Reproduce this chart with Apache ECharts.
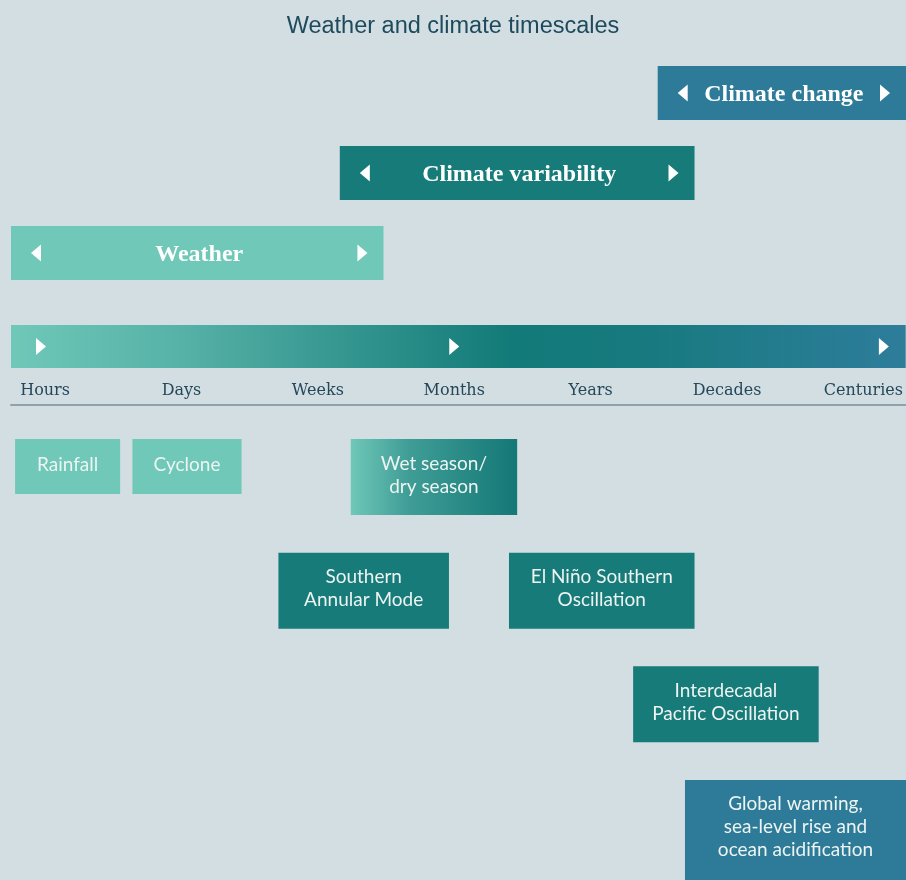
<!DOCTYPE html>
<html>
<head>
<meta charset="utf-8">
<title>Weather and climate timescales</title>
<script src="https://cdn.jsdelivr.net/npm/echarts@6/dist/echarts.min.js"></script>
<style>
  html, body { margin: 0; padding: 0; background: #d3dee3; }
  #chart { width: 906px; height: 880px; }
</style>
</head>
<body>
<div id="chart"></div>
<script>
// timescale axis, 0 = Hours ... 6 = Centuries
var timescales = ['Hours', 'Days', 'Weeks', 'Months', 'Years', 'Decades', 'Centuries']

// the three ranges on top
var bandNames = ['Climate change', 'Climate variability', 'Weather']
var bandStart = [4.49, 2.16, -0.25]
var bandEnd = [6.31, 4.76, 2.48]

// arrows on the timescale bar
var barArrows = [-0.03, 3.0, 6.15]

// phenomena
var eventNames = ['Rainfall', 'Cyclone', 'Wet season/\ndry season', 'Southern\nAnnular Mode',
  'El Niño Southern\nOscillation', 'Interdecadal\nPacific Oscillation',
  'Global warming,\nsea-level rise and\nocean acidification']
var eventStart = [-0.22, 0.64, 2.24, 1.71, 3.40, 4.31, 4.69]
var eventEnd = [0.55, 1.44, 3.46, 2.96, 4.76, 5.67, 6.31]
var eventRow = [0, 0, 0, 1, 1, 2, 3]
var eventGroup = ['weather', 'weather', 'season', 'variability', 'variability', 'variability', 'change']

var colors = {
  weather: '#6fc8b8',
  variability: '#167b79',
  change: '#2d7b98',
  axis: '#8ea2ab',
  label: '#24485a'
}
var bandColors = [colors.change, colors.variability, colors.weather]

var X_MIN = -0.25
var X_MAX = 6.31

function groupFill(g) {
  if (g === 'season') {
    return new echarts.graphic.LinearGradient(0, 0, 1, 0, [
      { offset: 0, color: '#6fc8b8' },
      { offset: 0.35, color: '#3f9d96' },
      { offset: 1, color: '#147876' }
    ])
  }
  return colors[g]
}

function arrow(cx, cy, dir) {
  var w = 10, h = 17
  var pts = dir > 0
    ? [[cx - w / 2, cy - h / 2], [cx + w / 2, cy], [cx - w / 2, cy + h / 2]]
    : [[cx + w / 2, cy - h / 2], [cx - w / 2, cy], [cx + w / 2, cy + h / 2]]
  return { type: 'polygon', shape: { points: pts }, style: { fill: '#ffffff' } }
}

function renderBand(params, api) {
  var s = api.coord([api.value(0), api.value(2)])
  var e = api.coord([api.value(1), api.value(2)])
  var h = api.size([0, 1])[1] * 0.675
  var top = s[1] - h / 2
  var inset = 25
  return {
    type: 'group',
    children: [
      { type: 'rect', shape: { x: s[0], y: top, width: e[0] - s[0], height: h },
        style: { fill: bandColors[params.dataIndex] } },
      arrow(s[0] + inset, s[1], -1),
      arrow(e[0] - inset + 4, s[1], 1),
      { type: 'text', x: (s[0] + e[0]) / 2 + 2, y: s[1] + 2,
        style: { text: bandNames[params.dataIndex], fill: '#ffffff', align: 'center', verticalAlign: 'middle',
          font: 'bold 24px "Liberation Serif", serif' } }
    ]
  }
}

function renderBar(params, api) {
  var s = api.coord([X_MIN, 1])
  var e = api.coord([X_MAX, 0.4625])
  var cy = (s[1] + e[1]) / 2
  var children = [{
    type: 'rect', shape: { x: s[0], y: s[1], width: e[0] - s[0], height: e[1] - s[1] },
    style: {
      fill: new echarts.graphic.LinearGradient(0, 0, 1, 0, [
        { offset: 0, color: '#6fc8b8' },
        { offset: 0.2, color: '#55b0a6' },
        { offset: 0.56, color: '#127a78' },
        { offset: 0.72, color: '#187a80' },
        { offset: 1, color: '#2e7d9b' }
      ])
    }
  }]
  barArrows.forEach(function (v) {
    children.push(arrow(api.coord([v, 0])[0], cy, 1))
  })
  return { type: 'group', children: children }
}

function renderEvent(params, api) {
  var i = params.dataIndex
  var s = api.coord([api.value(0), api.value(2)])
  var e = api.coord([api.value(1), api.value(2)])
  var lines = eventNames[i].split('\n').length
  var h = 55 + (lines - 1) * 21
  // the last box runs off the bottom of the picture
  var boxH = lines > 2 ? h + 12 : h
  return {
    type: 'group',
    children: [
      { type: 'rect', shape: { x: s[0], y: s[1], width: e[0] - s[0], height: boxH },
        style: { fill: groupFill(eventGroup[i]) } },
      { type: 'text', x: (s[0] + e[0]) / 2, y: s[1] + h / 2 - 2,
        style: { text: eventNames[i], fill: '#edf4f2', align: 'center', verticalAlign: 'middle',
          font: '19px Lato, sans-serif', lineHeight: 23 } }
    ]
  }
}

var chart = echarts.init(document.getElementById('chart'))

chart.setOption({
  backgroundColor: '#d3dee3',
  animation: false,
  title: {
    text: 'Weather and climate timescales',
    left: 'center',
    top: 10,
    textStyle: {
      fontFamily: '"Liberation Sans", sans-serif',
      fontWeight: 'normal',
      fontSize: 23.5,
      color: '#1d4a5c'
    }
  },
  grid: [
    { left: 11, right: 0, top: 53, height: 240 },
    { left: 11, right: 0, top: 325, height: 80 },
    { left: 11, right: 0, top: 439, bottom: 0 }
  ],
  xAxis: [
    { gridIndex: 0, type: 'value', min: X_MIN, max: X_MAX, show: false },
    {
      gridIndex: 1, type: 'value', min: X_MIN, max: X_MAX,
      axisLine: { show: true, lineStyle: { color: colors.axis, width: 2 } },
      axisTick: { show: false },
      splitLine: { show: false },
      axisLabel: {
        inside: true,
        margin: 6,
        customValues: [0, 1, 2, 3, 4, 5, 6],
        formatter: function (v) { return timescales[Math.round(v)] },
        fontFamily: '"DejaVu Serif", serif',
        fontSize: 16,
        color: colors.label
      }
    },
    { gridIndex: 2, type: 'value', min: X_MIN, max: X_MAX, show: false }
  ],
  yAxis: [
    { gridIndex: 0, type: 'category', data: bandNames, inverse: true, show: false },
    { gridIndex: 1, type: 'value', min: 0, max: 1, show: false },
    { gridIndex: 2, type: 'value', min: 0, max: 3.88, inverse: true, show: false }
  ],
  series: [
    {
      type: 'custom', xAxisIndex: 0, yAxisIndex: 0, renderItem: renderBand,
      data: bandNames.map(function (n, i) { return [bandStart[i], bandEnd[i], i] })
    },
    {
      type: 'custom', xAxisIndex: 1, yAxisIndex: 1, renderItem: renderBar,
      data: [[X_MIN, X_MAX]]
    },
    {
      type: 'custom', xAxisIndex: 2, yAxisIndex: 2, renderItem: renderEvent,
      data: eventNames.map(function (n, i) { return [eventStart[i], eventEnd[i], eventRow[i]] })
    }
  ]
})
</script>
</body>
</html>
